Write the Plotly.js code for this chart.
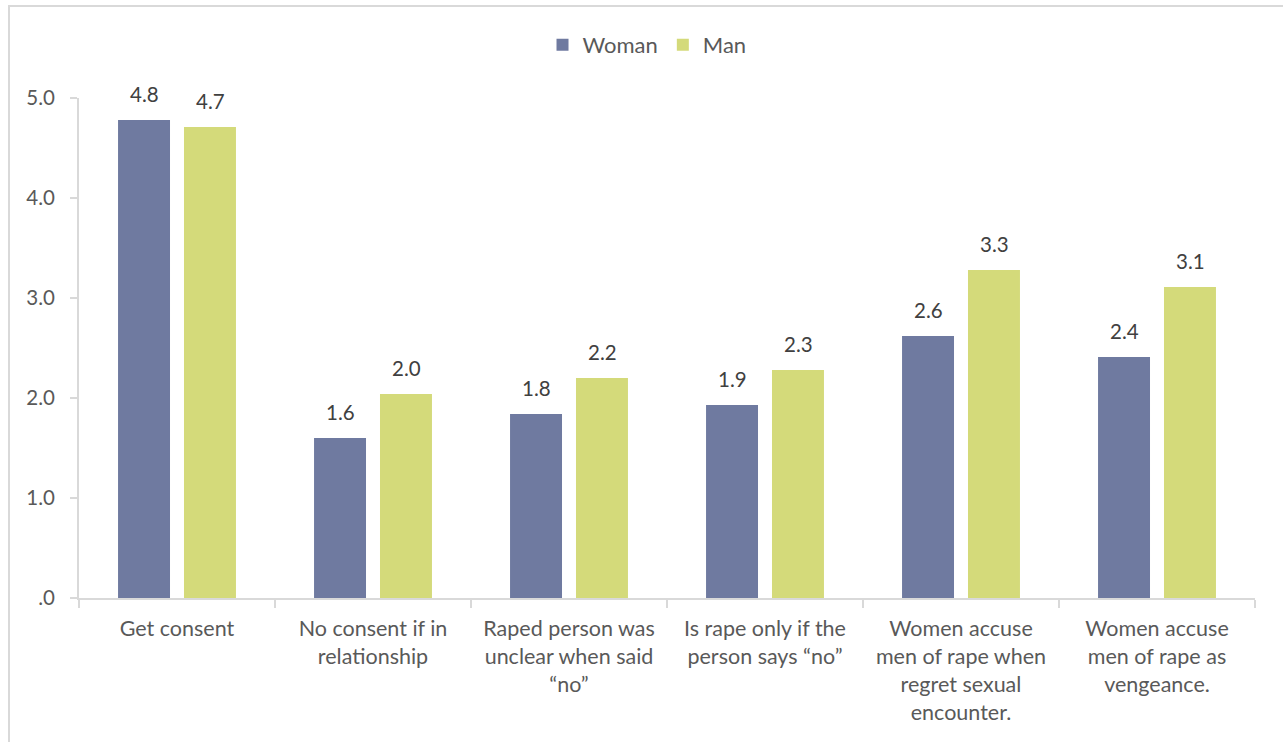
<!DOCTYPE html>
<html>
<head>
<meta charset="utf-8">
<script src="https://cdn.plot.ly/plotly-3.0.1.min.js"></script>
<style>
  html, body { margin: 0; padding: 0; background: #fff; overflow: hidden; }
  #chart { position: absolute; left: 0; top: 0; width: 1283px; height: 742px; }
  #frame { position: absolute; left: 8px; top: 5px; width: 1300px; height: 760px;
           border: 2px solid #d9d9d9; pointer-events: none; }
</style>
</head>
<body>
<div id="chart"></div>
<div id="frame"></div>
<script>
// Survey statements (wrapped for the axis)
const categories = [
  "Get consent",
  "No consent if in<br>relationship",
  "Raped person was<br>unclear when said<br>“no”",
  "Is rape only if the<br>person says “no”",
  "Women accuse<br>men of rape when<br>regret sexual<br>encounter.",
  "Women accuse<br>men of rape as<br>vengeance."
];
// Mean agreement scores by respondent gender
const womanValues = [4.78, 1.60, 1.84, 1.93, 2.62, 2.41];
const manValues   = [4.71, 2.04, 2.20, 2.28, 3.28, 3.11];

const yTickValues = [0, 1, 2, 3, 4, 5];
const yTickLabels = [".0", "1.0", "2.0", "3.0", "4.0", "5.0"];

const fontFamily = "Lato, 'Open Sans', sans-serif";
const womanColor = "#6f7aa0";
const manColor = "#d4da7a";

const barTrace = (name, values, color) => ({
  type: "bar",
  name: name,
  x: categories,
  y: values,
  marker: { color: color },
  hoverinfo: "skip"
});

const data = [
  barTrace("Woman", womanValues, womanColor),
  barTrace("Man", manValues, manColor)
];

// Value labels sit a little above each bar; the two series are offset
// left and right of the category centre to follow the grouped bars.
const groupOffset = 33;
const valueLabels = [];
[[womanValues, -groupOffset], [manValues, groupOffset]].forEach(([values, dx]) => {
  values.forEach((v, i) => {
    valueLabels.push({
      x: categories[i], y: v, xref: "x", yref: "y",
      text: v.toFixed(1),
      showarrow: false,
      xanchor: "center", yanchor: "bottom",
      xshift: dx, yshift: 12,
      font: { family: fontFamily, size: 20.5, color: "#404040" }
    });
  });
});

const layout = {
  width: 1283,
  height: 742,
  margin: { l: 79, r: 28, t: 98, b: 144 },
  paper_bgcolor: "#ffffff",
  plot_bgcolor: "#ffffff",
  font: { family: fontFamily, size: 20, color: "#595959" },
  barmode: "group",
  bargap: 0.327,
  bargroupgap: 0.212,
  showlegend: true,
  legend: {
    orientation: "h",
    x: 0.483, xanchor: "center",
    y: 1.106, yanchor: "middle",
    font: { family: fontFamily, size: 22, color: "#595959" },
    itemwidth: 30,
    traceorder: "normal"
  },
  annotations: valueLabels,
  xaxis: {
    type: "category",
    showgrid: false,
    showline: true,
    linecolor: "#d9d9d9",
    linewidth: 2,
    ticks: "outside",
    tickson: "boundaries",
    ticklen: 8,
    tickwidth: 2,
    tickcolor: "#d9d9d9",
    ticklabelstandoff: 10,
    tickfont: { family: fontFamily, size: 21.5, color: "#595959" },
    tickangle: 0,
    fixedrange: true
  },
  yaxis: {
    range: [0, 5],
    tickvals: yTickValues,
    ticktext: yTickLabels,
    showgrid: false,
    zeroline: false,
    showline: true,
    linecolor: "#d9d9d9",
    linewidth: 2,
    ticks: "outside",
    ticklen: 7,
    tickwidth: 2,
    tickcolor: "#d9d9d9",
    ticklabelstandoff: 11,
    tickfont: { family: fontFamily, size: 20.5, color: "#595959" },
    fixedrange: true
  }
};

Plotly.newPlot("chart", data, layout, { displayModeBar: false, staticPlot: true });
</script>
</body>
</html>
